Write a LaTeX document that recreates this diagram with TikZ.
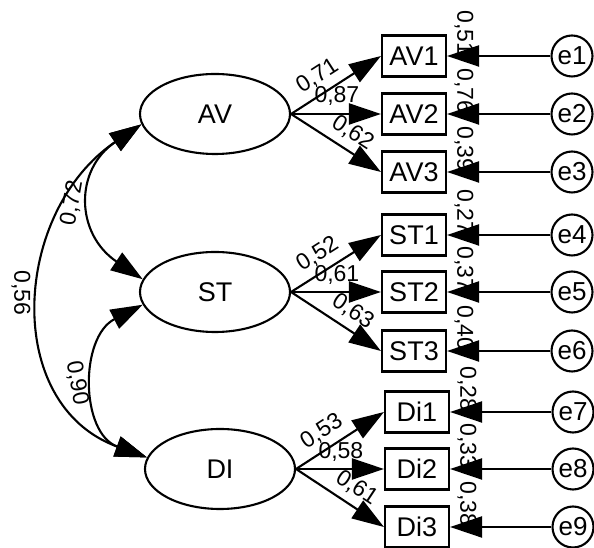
\documentclass[tikz,border=0pt]{standalone}
\usepackage{fontspec}
\setmainfont{Liberation Sans}
\usetikzlibrary{arrows.meta,shapes.geometric}
\begin{document}
\begin{tikzpicture}[x=1pt,y=1pt]
  % Styles
  \tikzset{
    lat/.style={draw, ellipse, line width=2.1pt, minimum width=150pt, minimum height=80pt, inner sep=0pt, font=\fontsize{27}{29}\selectfont},
    obs/.style={draw, rectangle, line width=2.1pt, minimum width=64pt, minimum height=41pt, inner sep=0pt, font=\fontsize{27}{29}\selectfont},
    err/.style={draw, circle, line width=2.1pt, minimum size=41pt, inner sep=0pt, font=\fontsize{26}{28}\selectfont},
    fl/.style={-{Triangle[length=32pt,width=21pt]}, line width=2.1pt},
    cov/.style={{Triangle[length=32pt,width=21pt]}-{Triangle[length=32pt,width=21pt]}, line width=2.1pt},
    val/.style={font=\fontsize{23}{25}\selectfont, inner sep=1pt},
  }
  \useasboundingbox (0,0) rectangle (594,548);

  % Variables latentes
  \node[lat] (AV) at (215,434) {AV};
  \node[lat] (ST) at (215,256) {ST};
  \node[lat] (DI) at (220,79) {DI};

  % Indicateurs et erreurs
  \foreach \n/\x/\y/\i/\ex/\v in {
    AV1/414/492/1/572/{0,51},
    AV2/414/434/2/572/{0,76},
    AV3/414/376/3/572/{0,39},
    ST1/414/313/4/572/{0,27},
    ST2/414/256/5/572/{0,37},
    ST3/414/197/6/572/{0,40},
    Di1/417/136/7/573/{0,28},
    Di2/417/79/8/573/{0,33},
    Di3/417/21/9/573/{0,38}
  }{
    \node[obs] (\n) at (\x,\y) {\n};
    \node[err] (e\i) at (\ex,0 |- \n) {e\i};
    \draw[fl] (e\i) -- (\n);
    \node[val, rotate=-90] (r\i) at ([xshift=17pt,yshift=23pt]\n.east) {\v};
  }

  % Saturations
  \foreach \l/\n/\v/\p in {
    AV/AV1/{0,71}/0.4, AV/AV2/{0,87}/0.51, AV/AV3/{0,62}/0.58,
    ST/ST1/{0,52}/0.4, ST/ST2/{0,61}/0.51, ST/ST3/{0,63}/0.58,
    DI/Di1/{0,53}/0.4, DI/Di2/{0,58}/0.51, DI/Di3/{0,61}/0.58
  }
    \draw[fl] (\l.east) -- node[val, sloped, above=6pt, pos=\p] {\v} (\n.west);

  % Correlations
  \draw[cov] (AV.188) to[out=214, in=146, looseness=1.34] (ST.170);
  \draw[cov] (ST.190) to[out=207, in=160, looseness=1.19] (DI.171);
  \draw[cov] (AV.188) to[out=214, in=160, looseness=1.19] (DI.171);
  \node[val, rotate=80] (c72) at (72,345) {0,72};
  \node[val, rotate=-90] (c56) at (21,255) {0,56};
  \node[val, rotate=-80] (c90) at (77,165) {0,90};
\end{tikzpicture}
\end{document}
